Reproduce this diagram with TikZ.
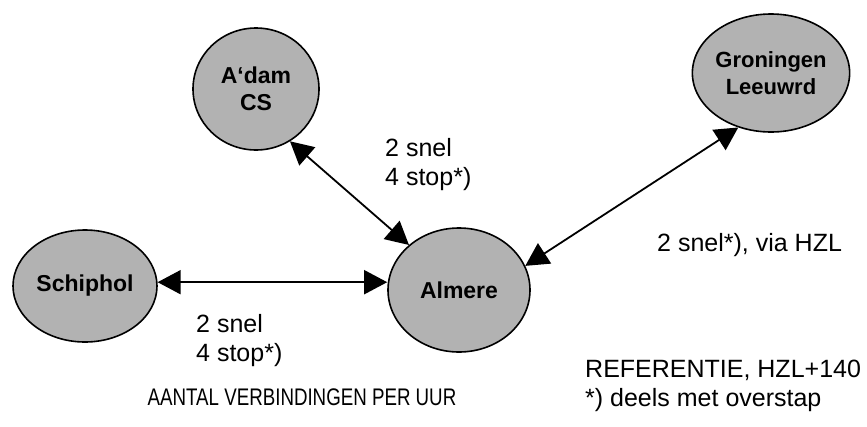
\documentclass[tikz,border=0pt]{standalone}
\usepackage{fontspec}
\setmainfont{Liberation Sans}
\usetikzlibrary{arrows.meta,shapes.geometric}

\tikzset{
  station/.style={ellipse, draw=black, line width=1.6pt, fill=black!30,
    inner sep=0pt, align=center, font=\fontsize{23}{27}\selectfont\bfseries},
  link/.style={line width=1.8pt,
    {Triangle[length=23pt,width=24pt]}-{Triangle[length=23pt,width=24pt]}},
  note/.style={align=left, inner sep=0pt, font=\fontsize{25}{29}\selectfont}
}

\begin{document}
\begin{tikzpicture}[x=1pt,y=-1pt]
  \useasboundingbox (0,0) rectangle (867,426);

  % stations
  \node[station, minimum width=126pt, minimum height=122pt] (adam) at (256,89) {A‘dam\\CS};
  \node[station, minimum width=114pt, minimum height=118pt, font=\fontsize{22}{27}\selectfont\bfseries] (gron) at (771,73) {Groningen\\Leeuwrd};
  \node[station, minimum width=144pt, minimum height=112pt] (schip) at (85,286) {Schiphol};
  \node[station, minimum width=142pt, minimum height=124pt] (alm) at (459,290) {Almere};

  % connections
  \draw[link] (adam.-57) -- (alm.138);
  \draw[link] (gron.-121) -- (alm.20);
  \path (schip.3) coordinate (sa);
  \draw[link] (sa) -- (sa -| alm.west);

  % frequency labels
  \node[note, anchor=west] (l1) at (385,165) {2 snel\\4 stop*)};
  \node[note, anchor=west] (l2) at (196,341) {2 snel\\4 stop*)};
  \node[note, anchor=west] (l3) at (657,245) {2 snel*), via HZL};

  % captions
  \node[note, anchor=center, font=\fontsize{24}{28}\selectfont] (title) at (302,397) {\scalebox{0.78}[1]{AANTAL VERBINDINGEN PER UUR}};
  \node[note, anchor=west] (ref) at (585,386) {REFERENTIE, HZL+140\\*) deels met overstap};
\end{tikzpicture}
\end{document}
